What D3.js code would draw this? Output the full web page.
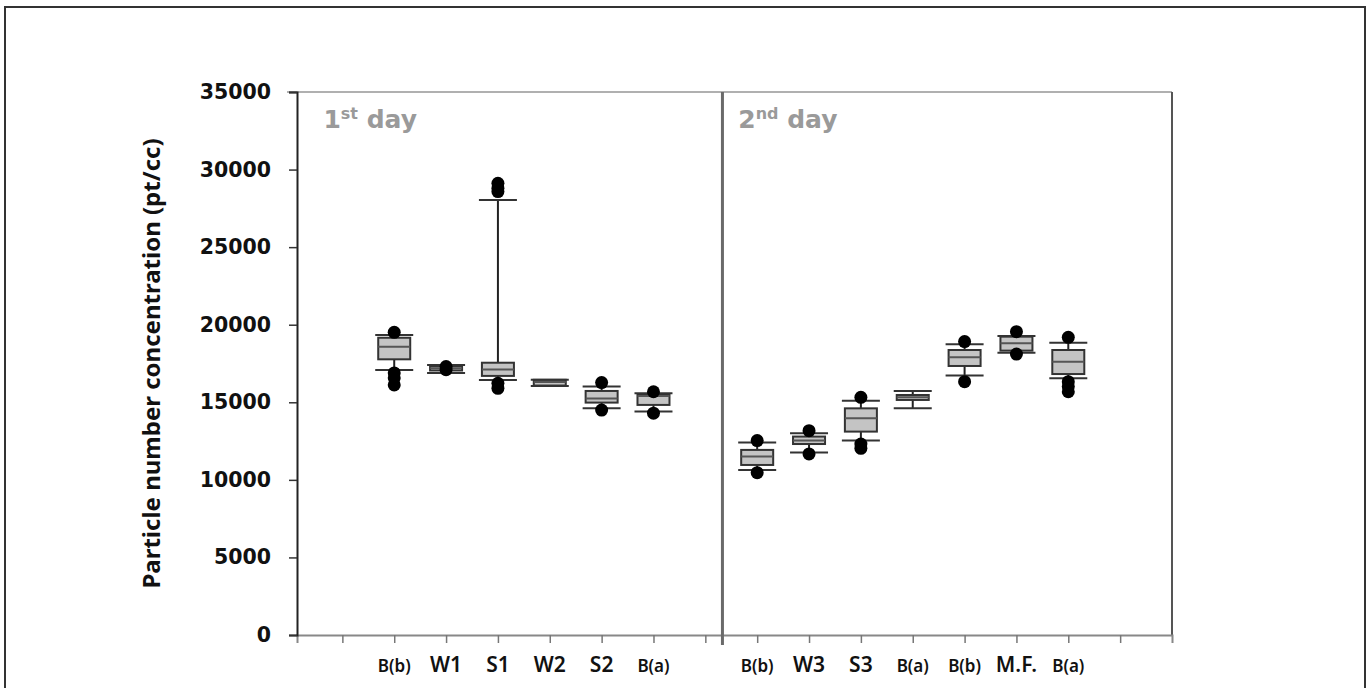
<!DOCTYPE html>
<html><head><meta charset="utf-8">
<script src="https://cdn.jsdelivr.net/npm/d3@7/dist/d3.min.js"></script>
<style>body{margin:0;background:#fff}svg{display:block}</style>
</head><body>
<script>
// ---- data ----
const categories = ["B(b)","W1","S1","W2","S2","B(a)","B(b)","W3","S3","B(a)","B(b)","M.F.","B(a)"];
const positions  = [1,2,3,4,5,6, 8,9,10,11,12,13,14];
const whiskerLow = [17080,16890,16440,16050,14610,14400, 10640,11770,12530,14610,16720,18200,16550];
const q1         = [17770,17050,16700,16080,14980,14830, 10960,12310,13110,15150,17340,18330,16820];
const median     = [18580,17200,17120,16300,15250,15400, 11500,12530,13970,15320,17900,18800,17620];
const q3         = [19160,17330,17550,16450,15730,15470, 11930,12790,14610,15470,18370,19230,18370];
const whiskerHigh= [19340,17400,28040,16450,16010,15580, 12400,13000,15100,15730,18740,19270,18840];
const outliers   = [
  [19510,16890,16570,16120],
  [17300,17100],
  [29120,28790,28580,16220,15900],
  [],
  [16270,14500],
  [15680,14300],
  [12530,10460],
  [13170,11670],
  [15320,12310,12030],
  [],
  [18910,16330],
  [19550,18110],
  [19190,16330,16010,15680]
];
const yTicks = [0,5000,10000,15000,20000,25000,30000,35000];
const xTickPositions = [0,1,2,3,4,5,6,7,8,9,10,11,12,13,14,15];
const dayLabels = [{pos:-0.5, main:"1", sup:"st", rest:" day"},{pos:7.5, main:"2", sup:"nd", rest:" day"}];
const dividerPos = 7.33;

// ---- layout ----
const W = 1370, H = 688;
const svg = d3.select("body").append("svg").attr("width", W).attr("height", H);

// outer frame (open at the bottom)
svg.append("path").attr("d", `M5,${H+5} L5,7 L1365,7 L1365,${H+5}`)
  .attr("fill","none").attr("stroke","#333").attr("stroke-width",2);

const x = d3.scaleLinear().domain([-0.875, 16]).range([297, 1172]);
const y = d3.scaleLinear().domain([0, 35000]).range([635, 92]);

// top & right borders
svg.append("line").attr("x1",287).attr("x2",x(16)).attr("y1",y(35000)).attr("y2",y(35000))
  .attr("stroke","#b0b0b0").attr("stroke-width",2);
svg.append("line").attr("x1",x(16)).attr("x2",x(16)).attr("y1",y(35000)).attr("y2",y(0))
  .attr("stroke","#555").attr("stroke-width",2);

// x axis
const xAxis = svg.append("g").attr("transform",`translate(0,${y(0)})`)
  .call(d3.axisBottom(x).tickValues(xTickPositions).tickSize(8).tickFormat(""));
xAxis.select(".domain").attr("stroke","#888").attr("stroke-width",2);
xAxis.selectAll(".tick line").attr("stroke","#777").attr("stroke-width",1.5);

// y axis
const yAxis = svg.append("g").attr("transform",`translate(${x(-0.875)},0)`)
  .call(d3.axisLeft(y).tickValues(yTicks).tickSize(8).tickPadding(18).tickFormat(d3.format("d")));
yAxis.select(".domain").attr("stroke","#222").attr("stroke-width",2);
yAxis.selectAll(".tick line").attr("stroke","#333").attr("stroke-width",1.5);
yAxis.selectAll(".tick text").attr("font-family","'DejaVu Sans', sans-serif")
  .attr("font-weight","bold").attr("font-size",20.5).attr("fill","#111");

// divider
svg.append("line").attr("x1",x(dividerPos)).attr("x2",x(dividerPos))
  .attr("y1",y(35000)).attr("y2",y(0)+10).attr("stroke","#6a6a6a").attr("stroke-width",3);

// y title
svg.append("text").attr("transform",`translate(160,${(y(0)+y(35000))/2}) rotate(-90)`)
  .attr("text-anchor","middle").attr("font-family","'Noto Sans', sans-serif")
  .attr("font-weight",700).attr("font-size",24).attr("fill","#111")
  .text("Particle number concentration (pt/cc)");

// day labels
dayLabels.forEach(d => {
  const t = svg.append("text").attr("x", x(d.pos)+7).attr("y", 128)
    .attr("font-family","'DejaVu Sans', sans-serif").attr("font-weight","bold")
    .attr("font-size",25).attr("fill","#9a9a9a");
  t.append("tspan").text(d.main);
  t.append("tspan").attr("font-size",16).attr("dy",-9).text(d.sup);
  t.append("tspan").attr("dy",9).text(d.rest);
});

// x category labels
svg.append("g").selectAll("text").data(categories).join("text")
  .attr("x",(d,i)=>x(positions[i])).attr("y",672)
  .attr("text-anchor","middle").attr("font-family","'Noto Sans', sans-serif")
  .attr("font-weight",600)
  .attr("font-size",d => d.startsWith("B") ? 17 : 21).attr("fill","#111")
  .text(d=>d);

// boxes
const boxW = 32, capW = 38;
const g = svg.append("g");
categories.forEach((c,i) => {
  const cx = x(positions[i]);
  g.append("line").attr("x1",cx).attr("x2",cx).attr("y1",y(whiskerHigh[i])).attr("y2",y(q3[i]))
    .attr("stroke","#222").attr("stroke-width",2);
  g.append("line").attr("x1",cx).attr("x2",cx).attr("y1",y(q1[i])).attr("y2",y(whiskerLow[i]))
    .attr("stroke","#222").attr("stroke-width",2);
  g.append("rect").attr("x",cx-boxW/2).attr("width",boxW)
    .attr("y",y(q3[i])).attr("height",Math.max(1,y(q1[i])-y(q3[i])))
    .attr("fill","#c4c4c4").attr("stroke","#333").attr("stroke-width",2);
  g.append("line").attr("x1",cx-boxW/2).attr("x2",cx+boxW/2).attr("y1",y(median[i])).attr("y2",y(median[i]))
    .attr("stroke","#555").attr("stroke-width",2);
  [whiskerHigh[i], whiskerLow[i]].forEach(v => {
    g.append("line").attr("x1",cx-capW/2).attr("x2",cx+capW/2).attr("y1",y(v)).attr("y2",y(v))
      .attr("stroke","#333").attr("stroke-width",2);
  });
  outliers[i].forEach(v => {
    g.append("circle").attr("cx",cx).attr("cy",y(v)).attr("r",6.5).attr("fill","#000");
  });
});
</script>
</body></html>
